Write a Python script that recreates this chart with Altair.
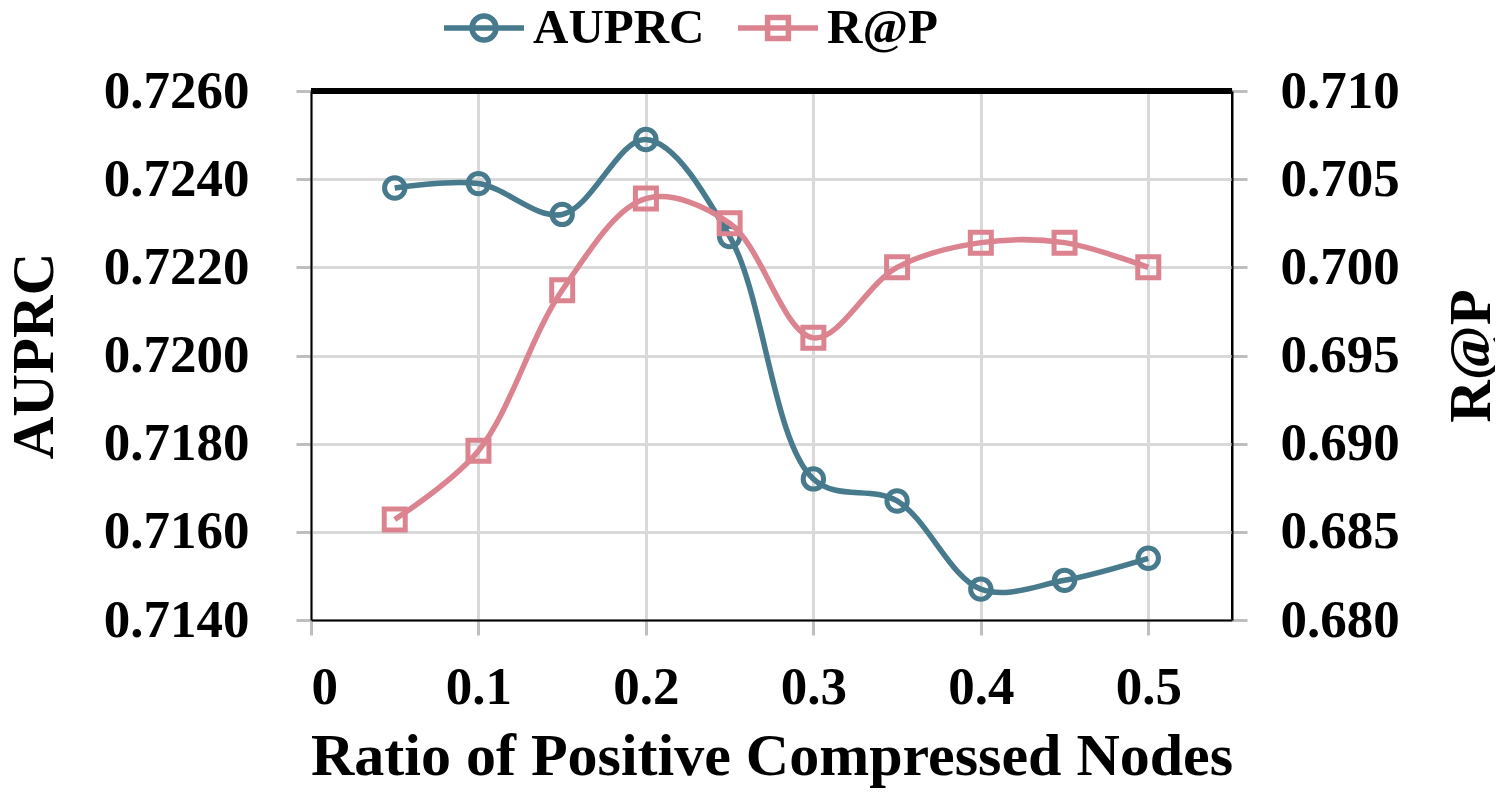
import altair as alt
import pandas as pd

# ---------------- data ----------------
ratios = [0.05, 0.10, 0.15, 0.20, 0.25, 0.30, 0.35, 0.40, 0.45, 0.50]
auprc = [0.7238, 0.7239, 0.7232, 0.7249, 0.7227, 0.7172, 0.7167, 0.7147, 0.7149, 0.7154]
rap = [0.6857, 0.6896, 0.6987, 0.7039, 0.7025, 0.6960, 0.7000, 0.7014, 0.7014, 0.7000]

series_names = ["AUPRC", "R@P"]
series_colors = ["#467A8C", "#DC8390"]

x_ticks = [0, 0.1, 0.2, 0.3, 0.4, 0.5]
left_ticks = [0.714, 0.716, 0.718, 0.720, 0.722, 0.724, 0.726]
right_ticks = [0.680, 0.685, 0.690, 0.695, 0.700, 0.705, 0.710]

x_title = "Ratio of Positive Compressed Nodes"
left_title = "AUPRC"
right_title = "R@P"

# ---------------- layout ----------------
W, H = 921, 529
FONT = "Liberation Serif"
GRID = "#d9d9d9"
TICK = "#bfbfbf"

df = pd.DataFrame({"ratio": ratios, "AUPRC": auprc, "RAP": rap})
legend_df = pd.DataFrame({"series": series_names})

legend_paths = [
    "M-1,0L1,0M0.3,0A0.3,0.3,0,1,1,-0.3,0A0.3,0.3,0,1,1,0.3,0Z",
    "M-1,0L1,0M-0.26,-0.26L0.26,-0.26L0.26,0.26L-0.26,0.26Z",
]

common_axis = dict(
    ticks=True, tickColor=TICK, tickWidth=3, tickSize=15,
    domain=True, domainColor="black", domainWidth=2,
    labelFont=FONT, labelFontSize=53, labelFontWeight="bold", labelColor="black",
    titleFont=FONT, titleFontWeight="bold", titleColor="black",
)

x_enc = alt.X(
    "ratio:Q",
    scale=alt.Scale(domain=[0, 0.55], nice=False, zero=False),
    axis=alt.Axis(
        values=x_ticks,
        labelExpr="datum.value == 0 ? '0' : format(datum.value, '.1f')",
        title=x_title,
        grid=True, gridColor=GRID, gridWidth=3,
        labelBaseline="alphabetic", labelPadding=68,
        titleFontSize=60,
        titleX=W / 2, titleY=154, titleBaseline="alphabetic", titleAlign="center",
        **common_axis,
    ),
)

left_axis = alt.Axis(
    orient="left", values=left_ticks, format=".4f", title=left_title,
    grid=True, gridColor=GRID, gridWidth=3,
    labelPadding=47, titleFontSize=59,
    titleAngle=270, titleX=-277, titleY=H / 2, titleBaseline="middle", titleAlign="center",
    **common_axis,
)
right_axis = alt.Axis(
    orient="right", values=right_ticks, format=".3f", title=right_title,
    grid=False,
    labelPadding=33, titleFontSize=59,
    titleAngle=270, titleX=239, titleY=H / 2, titleBaseline="middle", titleAlign="center",
    **common_axis,
)

y_left = alt.Y("AUPRC:Q", scale=alt.Scale(domain=[0.714, 0.726], nice=False, zero=False), axis=left_axis)
y_right = alt.Y("RAP:Q", scale=alt.Scale(domain=[0.680, 0.710], nice=False, zero=False), axis=right_axis)

base = alt.Chart(df)

left_layer = alt.layer(
    base.mark_line(interpolate="catmull-rom", strokeWidth=5.5, color=series_colors[0]).encode(x=x_enc, y=y_left),
    base.mark_point(shape="circle", filled=False, size=415, strokeWidth=5, color=series_colors[0], opacity=1).encode(x=x_enc, y=y_left),
)
right_layer = alt.layer(
    base.mark_line(interpolate="catmull-rom", strokeWidth=5.5, color=series_colors[1]).encode(x=x_enc, y=y_right),
    base.mark_point(shape="square", filled=False, size=441, strokeWidth=5, color=series_colors[1], opacity=1).encode(x=x_enc, y=y_right),
)

legend_kw = dict(
    orient="none", legendX=130, legendY=-106, direction="horizontal", title=None,
    symbolSize=6400, symbolStrokeWidth=5.5, symbolOpacity=1,
    labelFont=FONT, labelFontSize=49, labelFontWeight="bold", labelColor="black",
    labelOffset=6, labelLimit=0, columnPadding=22, padding=0,
)
legend_layer = alt.Chart(legend_df).mark_point(filled=False, opacity=0).encode(
    x=alt.value(0), y=alt.value(0),
    color=alt.Color("series:N", scale=alt.Scale(domain=series_names, range=series_colors),
                    legend=alt.Legend(**legend_kw)),
    shape=alt.Shape("series:N", scale=alt.Scale(domain=series_names, range=legend_paths),
                    legend=alt.Legend(**legend_kw)),
)

top_rule = alt.Chart(df.head(1)).mark_rule(color="black", strokeWidth=6).encode(
    x=alt.value(0), x2=alt.value(W), y=alt.value(0)
)

chart = alt.layer(left_layer, right_layer, legend_layer, top_rule).resolve_scale(
    y="independent"
).properties(
    width=W, height=H,
    autosize=alt.AutoSizeParams(type="none"),
    padding={"left": 303, "top": 83, "right": 263, "bottom": 168},
).configure_view(stroke="black", strokeWidth=2)

chart.save("out.html", embed_options={"renderer": "svg", "actions": False})
